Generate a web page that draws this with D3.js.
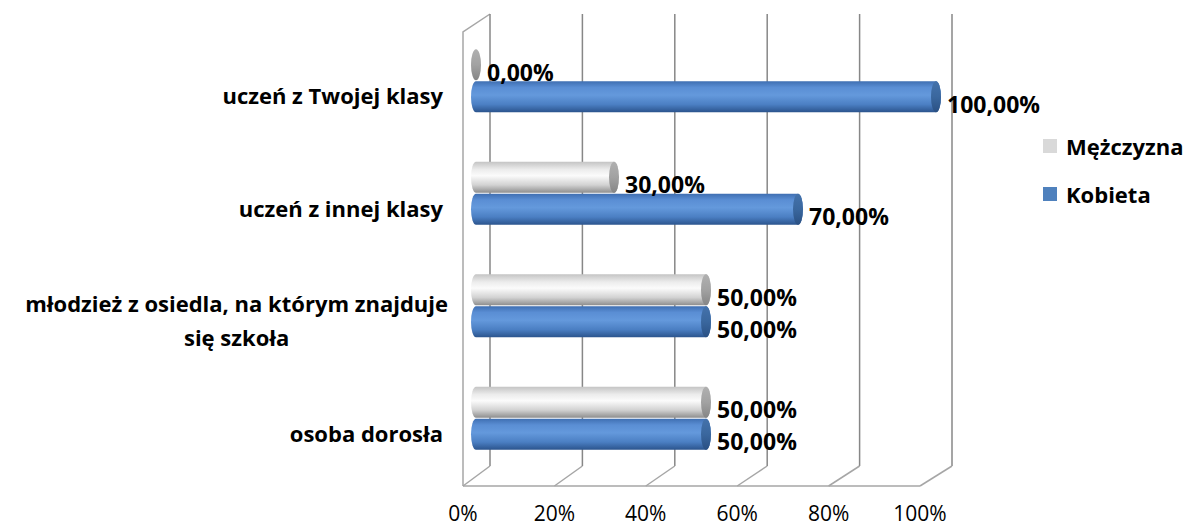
<!DOCTYPE html>
<html>
<head>
<meta charset="utf-8">
<script src="https://cdn.jsdelivr.net/npm/d3@7"></script>
<style>
  html, body { margin: 0; padding: 0; background: #ffffff; }
  svg { display: block; font-family: "Open Sans", Lato, sans-serif; }
</style>
</head>
<body>
<svg id="chart" width="1186" height="530"></svg>
<script>
// Categories (top to bottom) and the two series, values as shares
const categories = [
  "uczeń z Twojej klasy",
  "uczeń z innej klasy",
  "młodzież z osiedla, na którym znajduje się szkoła",
  "osoba dorosła"
];
const categoryLines = [
  ["uczeń z Twojej klasy"],
  ["uczeń z innej klasy"],
  ["młodzież z osiedla, na którym znajduje", "się szkoła"],
  ["osoba dorosła"]
];
const seriesNames = ["Mężczyzna", "Kobieta"];
const menValues = [0.00, 0.30, 0.50, 0.50];
const womenValues = [1.00, 0.70, 0.50, 0.50];
const tickValues = [0, 0.2, 0.4, 0.6, 0.8, 1.0];

const svg = d3.select("#chart");
const defs = svg.append("defs");

// Polish number formatting: comma as decimal separator
const pl = d3.formatLocale({ decimal: ",", thousands: " ", grouping: [3], currency: ["", " zł"] });
const fmtValue = pl.format(".2%");
const fmtTick = pl.format(".0%");

// Floor front edge, back wall, and the mid depth where the cylinders sit
const xFront = d3.scaleLinear().domain([0, 1]).range([463, 920]);
const xBack = d3.scaleLinear().domain([0, 1]).range([490, 952]);
const xMid = d3.scaleLinear().domain([0, 1]).range([476, 936]);

const y = d3.scaleBand().domain(categories).range([25, 475]);
const ySeries = d3.scaleBand().domain(seriesNames).range([-32, 32]);

const wallTop = 14, wallBottom = 466, frontTop = 32, floorFront = 486;

// Cylinder shading
function vGrad(id, stops) {
  const g = defs.append("linearGradient").attr("id", id)
    .attr("x1", 0).attr("y1", 0).attr("x2", 0).attr("y2", 1);
  stops.forEach(s => g.append("stop").attr("offset", s[0]).attr("stop-color", s[1]));
}
vGrad("blueBody", [[0, "#3f6fb2"], [0.2, "#5a8ed4"], [0.45, "#6499dc"], [0.75, "#4b7fc3"], [1, "#2b548d"]]);
vGrad("blueCap", [[0, "#4472ab"], [0.5, "#3a679e"], [1, "#2a5083"]]);
vGrad("greyBody", [[0, "#c4c4c4"], [0.25, "#ececec"], [0.45, "#fbfbfb"], [0.75, "#d2d2d2"], [1, "#8e8e8e"]]);
vGrad("greyCap", [[0, "#b0b0b0"], [0.5, "#a2a2a2"], [1, "#858585"]]);

const series = [
  { name: "Mężczyzna", values: menValues, body: "url(#greyBody)", cap: "url(#greyCap)", swatch: "#d9d9d9" },
  { name: "Kobieta", values: womenValues, body: "url(#blueBody)", cap: "url(#blueCap)", swatch: "#4f81bd" }
];

// Walls and gridlines
const grid = svg.append("g").attr("fill", "none");
// left wall
grid.append("path")
  .attr("d", `M${xFront(0)},${floorFront} L${xFront(0)},${frontTop} L${xBack(0)},${wallTop}`)
  .attr("stroke", "#a6a6a6").attr("stroke-width", 1.5);
// back wall gridlines
grid.selectAll("line.v").data(tickValues).join("line")
  .attr("class", "v")
  .attr("x1", d => xBack(d)).attr("x2", d => xBack(d))
  .attr("y1", wallTop).attr("y2", wallBottom)
  .attr("stroke", "#878787").attr("stroke-width", 1.5);
// floor front edge
grid.append("line")
  .attr("x1", xFront(0)).attr("x2", xFront(1))
  .attr("y1", floorFront).attr("y2", floorFront)
  .attr("stroke", "#a6a6a6").attr("stroke-width", 1.5);
// floor depth lines
grid.selectAll("line.d").data(tickValues).join("line")
  .attr("class", "d")
  .attr("x1", d => xFront(d)).attr("x2", d => xBack(d))
  .attr("y1", floorFront).attr("y2", wallBottom)
  .attr("stroke", "#a6a6a6").attr("stroke-width", 1.5);

// Axis tick labels along the front edge
svg.append("g").selectAll("text").data(tickValues).join("text")
  .attr("x", d => xFront(d))
  .attr("y", 521)
  .attr("text-anchor", "middle")
  .attr("font-size", 21)
  .attr("fill", "#000")
  .text(d => fmtTick(d));

// Cylinders
const rx = 5;
const bars = svg.append("g");
series.forEach(s => {
  categories.forEach((c, i) => {
    const v = s.values[i];
    const top = y(c) + y.bandwidth() / 2 + ySeries(s.name);
    const h = ySeries.bandwidth() - 1;
    const ry = h / 2;
    const x0 = xMid(0), x1 = xMid(v);
    const g = bars.append("g");
    if (x1 > x0) {
      g.append("path")
        .attr("d", `M${x0},${top} L${x1},${top} A${rx},${ry} 0 0 1 ${x1},${top + h} L${x0},${top + h} A${rx},${ry} 0 0 1 ${x0},${top} Z`)
        .attr("fill", s.body);
    }
    g.append("ellipse")
      .attr("cx", x1).attr("cy", top + ry)
      .attr("rx", rx).attr("ry", ry)
      .attr("fill", s.cap);
    // value label
    svg.append("text")
      .attr("x", x1 + rx + 6)
      .attr("y", top + ry + 7)
      .attr("dominant-baseline", "central")
      .attr("font-size", 23)
      .attr("font-weight", "bold")
      .attr("fill", "#000")
      .text(fmtValue(v));
  });
});

// Category labels, right-aligned block, lines centred within it
const catG = svg.append("g").attr("font-size", 22).attr("font-weight", "bold").attr("fill", "#000");
categories.forEach((c, i) => {
  const lines = categoryLines[i];
  const cy = y(c) + y.bandwidth() / 2 + 14;
  const lineH = 34;
  const texts = lines.map((ln, j) => catG.append("text")
    .attr("y", cy + (j - (lines.length - 1) / 2) * lineH)
    .attr("dominant-baseline", "central")
    .attr("text-anchor", "middle")
    .text(ln));
  const maxW = d3.max(texts, t => t.node().getComputedTextLength());
  const right = lines.length > 1 ? 448 : 443;
  texts.forEach(t => t.attr("x", right - maxW / 2));
});

// Legend
const legend = svg.append("g");
series.forEach((s, i) => {
  const ly = 146 + i * 48;
  legend.append("rect")
    .attr("x", 1043).attr("y", ly - 7)
    .attr("width", 14).attr("height", 14)
    .attr("fill", s.swatch);
  legend.append("text")
    .attr("x", 1066).attr("y", ly)
    .attr("dominant-baseline", "central")
    .attr("font-size", 22)
    .attr("font-weight", "bold")
    .attr("fill", "#000")
    .text(s.name);
});
</script>
</body>
</html>
